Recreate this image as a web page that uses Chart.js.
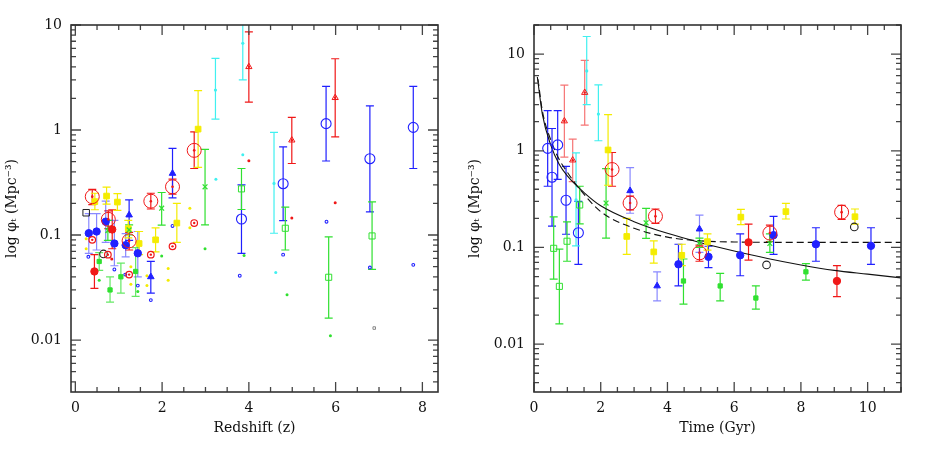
<!DOCTYPE html>
<html><head><meta charset="utf-8">
<script src="https://cdn.jsdelivr.net/npm/chart.js@4.4.1/dist/chart.umd.min.js"></script>
<style>
html,body{margin:0;padding:0;background:#fff;}
#wrap{position:relative;width:926px;height:463px;}
.pane{position:absolute;top:0;width:463px;height:463px;}
</style></head><body>
<div id="wrap">
<div class="pane" style="left:0"><canvas id="c1" width="463" height="463"></canvas></div>
<div class="pane" style="left:463px"><canvas id="c2" width="463" height="463"></canvas></div>
</div>
<script>
// ---------- tick labels ----------
const yMajorVals = [0.01, 0.1, 1, 10];
const yMajorLabels = ['0.01', '0.1', '1', '10'];
const xMajorLeft = [0, 2, 4, 6, 8];
const xMajorRight = [0, 2, 4, 6, 8, 10];
const xTitleLeft = 'Redshift (z)';
const xTitleRight = 'Time (Gyr)';
const yTitle = 'log \u03C6\u209C (Mpc\u207B\u00B3)';

// ---------- data (z = redshift, t = time in Gyr, phi in Mpc^-3) ----------
const redRingZ   = [0.39, 0.76, 1.24, 1.74, 2.24, 2.74];
const redRingT   = [9.22, 7.07, 4.96, 3.64, 2.88, 2.34];
const redRingPhi = [0.232, 0.141, 0.088, 0.21, 0.288, 0.64];
const redRingLo  = [0.195, 0.115, 0.072, 0.177, 0.245, 0.43];
const redRingHi  = [0.272, 0.17, 0.106, 0.25, 0.34, 0.96];

const redSmallRingZ   = [0.39, 0.75, 1.24, 1.74, 2.24, 2.74];
const redSmallRingPhi = [0.09, 0.065, 0.042, 0.065, 0.078, 0.13];

const yelSqZ   = [0.45, 0.72, 0.97, 1.22, 1.47, 1.85, 2.34, 2.83];
const yelSqT   = [9.62, 7.55, 6.2, 5.2, 4.43, 3.59, 2.78, 2.22];
const yelSqPhi = [0.208, 0.235, 0.206, 0.115, 0.083, 0.09, 0.13, 1.02];
const yelSqLo  = [0.174, 0.197, 0.172, 0.094, 0.065, 0.069, 0.085, 0.44];
const yelSqHi  = [0.25, 0.286, 0.248, 0.138, 0.108, 0.117, 0.2, 2.37];

const yelDotZ   = [0.25, 0.25, 1.28, 1.28, 1.65, 1.65, 2.14, 2.14, 2.64, 2.64];
const yelDotPhi = [0.092, 0.074, 0.05, 0.034, 0.041, 0.033, 0.048, 0.037, 0.18, 0.117];

const bluFillZ   = [0.31, 0.49, 0.70, 0.90, 1.16, 1.44];
const bluFillT   = [10.1, 8.45, 7.18, 6.18, 5.23, 4.33];
const bluFillPhi = [0.104, 0.108, 0.134, 0.083, 0.08, 0.067];
const bluFillLo  = [0.067, 0.072, 0.085, 0.051, 0.062, 0.04];
const bluFillHi  = [0.16, 0.16, 0.21, 0.138, 0.103, 0.108];

const bluTriZ   = [1.24, 1.74, 2.24];
const bluTriT   = [4.96, 3.69, 2.88];
const bluTriPhi = [0.155, 0.04, 0.386];
const bluTriLo  = [0.089, 0.028, 0.226];
const bluTriHi  = [0.216, 0.056, 0.67];

const bluOpenZ   = [3.83, 4.79, 5.78, 6.79, 7.79];
const bluOpenT   = [1.33, 0.96, 0.71, 0.54, 0.41];
const bluOpenPhi = [0.142, 0.308, 1.15, 0.533, 1.06];
const bluOpenLo  = [0.067, 0.137, 0.507, 0.166, 0.43];
const bluOpenHi  = [0.30, 0.69, 2.6, 1.7, 2.6];

const bluDotZ   = [0.30, 0.90, 1.15, 1.44, 1.74, 2.24, 3.79, 4.79, 5.79, 6.79, 7.79];
const bluDotPhi = [0.062, 0.047, 0.042, 0.033, 0.024, 0.122, 0.041, 0.065, 0.134, 0.049, 0.052];

const grnFillZ   = [0.55, 0.80, 1.05, 1.39];
const grnFillT   = [8.15, 6.65, 5.58, 4.48];
const grnFillPhi = [0.056, 0.030, 0.040, 0.045];
const grnFillLo  = [0.046, 0.023, 0.028, 0.026];
const grnFillHi  = [0.068, 0.040, 0.054, 0.076];

const grnXZ   = [0.75, 1.24, 1.99, 2.99];
const grnXT   = [7.07, 4.96, 3.36, 2.16];
const grnXPhi = [0.11, 0.112, 0.18, 0.288];
const grnXLo  = [0.089, 0.1, 0.124, 0.125];
const grnXHi  = [0.138, 0.125, 0.254, 0.655];

const grnOpenZ   = [3.83, 4.84, 5.84, 6.84];
const grnOpenT   = [1.37, 0.99, 0.76, 0.59];
const grnOpenPhi = [0.275, 0.116, 0.0396, 0.098];
const grnOpenLo  = [0.175, 0.072, 0.0162, 0.047];
const grnOpenHi  = [0.43, 0.184, 0.096, 0.207];

const grnDotZ   = [0.55, 1.44, 1.99, 2.99, 3.89, 4.88, 5.88];
const grnDotPhi = [0.037, 0.029, 0.063, 0.074, 0.064, 0.027, 0.011];

const grayDotZ   = [6.89];
const grayDotPhi = [0.013];

const cyanZ   = [3.23, 3.86, 4.58];
const cyanT   = [1.93, 1.58, 1.26];
const cyanPhi = [2.4, 6.7, 0.31];
const cyanLo  = [1.27, 3.0, 0.104];
const cyanHi  = [4.8, 15.2, 0.95];

const cyanDotZ   = [3.24, 3.86, 4.62];
const cyanDotPhi = [0.34, 0.58, 0.044];

const redTriZ   = [4.0, 4.99, 5.99];
const redTriT   = [1.52, 1.16, 0.91];
const redTriPhi = [4.0, 0.80, 2.03];
const redTriLo  = [1.84, 0.48, 0.86];
const redTriHi  = [8.6, 1.32, 4.77];

const redDotZ   = [0.84, 4.0, 4.99, 5.99];
const redDotPhi = [0.059, 0.51, 0.145, 0.203];

const redFillZ   = [0.44, 0.85];
const redFillT   = [9.08, 6.43];
const redFillPhi = [0.045, 0.113];
const redFillLo  = [0.031, 0.074];
const redFillHi  = [0.065, 0.174];

const blkSqZ = [0.25], blkSqT = [9.6], blkSqPhi = [0.163];
const blkCircZ = [0.65], blkCircT = [6.97], blkCircPhi = [0.066];

// model curves (right panel)
const solidT   = [0.1, 0.25, 0.5, 0.75, 1, 1.5, 2, 3, 4, 5, 6, 7, 8, 9, 10, 11];
const solidPhi = [5.8, 2.4, 1.15, 0.73, 0.55, 0.37, 0.27, 0.185, 0.14, 0.112, 0.092, 0.077, 0.066, 0.058, 0.053, 0.0485];
const dashT    = [0.12, 0.25, 0.5, 0.75, 1, 1.3, 2, 3, 4, 5, 6, 7, 8, 9, 10, 11];
const dashPhi  = [5.5, 2.6, 1.3, 0.82, 0.6, 0.43, 0.235, 0.158, 0.128, 0.117, 0.114, 0.113, 0.113, 0.113, 0.113, 0.113];

// ---------- styling ----------
const FONT = '"DejaVu Serif", "Liberation Serif", serif';
const RED = '#f01818', YEL = '#f4ec00', BLU = '#2020ff', GRN = '#30e030', CYA = '#40f0f0', BLK = '#222';
const T = 'rgba(0,0,0,0)';

function pts(xs, ys) { return xs.map((v, i) => ({x: v, y: ys[i]})); }
function mk(xs, ys, st, lo, hi, errColor) {
  const d = Object.assign({data: pts(xs, ys), showLine: false, pointHoverRadius: 0}, st);
  if (lo) { d.errLo = lo; d.errHi = hi; d.errColor = errColor; }
  return d;
}
const S = {
  ring:  c => ({pointStyle:'circle', pointRadius:7, pointBorderColor:c, pointBackgroundColor:T, pointBorderWidth:1, borderColor:c, backgroundColor:T}),
  sring: c => ({pointStyle:'circle', pointRadius:3.3, pointBorderColor:c, pointBackgroundColor:T, pointBorderWidth:1.2, borderColor:c, backgroundColor:T}),
  dot:   (c, r) => ({pointStyle:'circle', pointRadius:r || 1.4, pointBorderWidth:0, pointBackgroundColor:c, borderColor:c, backgroundColor:c}),
  fcirc: c => ({pointStyle:'circle', pointRadius:3.7, pointBorderWidth:1, pointBorderColor:c, pointBackgroundColor:c, borderColor:c, backgroundColor:c}),
  fsq:   (c, r) => ({pointStyle:'rect', pointRadius:r, pointBorderWidth:1, pointBorderColor:c, pointBackgroundColor:c, borderColor:c, backgroundColor:c}),
  osq:   (c, r) => ({pointStyle:'rect', pointRadius:r, pointBorderWidth:1, pointBorderColor:c, pointBackgroundColor:T, borderColor:c, backgroundColor:T}),
  ftri:  c => ({pointStyle:'triangle', pointRadius:3.8, pointBorderWidth:1, pointBorderColor:c, pointBackgroundColor:c, borderColor:c, backgroundColor:c}),
  otri:  c => ({pointStyle:'triangle', pointRadius:3.6, pointBorderWidth:1, pointBorderColor:c, pointBackgroundColor:T, borderColor:c, backgroundColor:T}),
  ocirc: (c, r) => ({pointStyle:'circle', pointRadius:r, pointBorderWidth:1.1, pointBorderColor:c, pointBackgroundColor:T, borderColor:c, backgroundColor:T}),
  xx:    c => ({pointStyle:'crossRot', pointRadius:3.4, pointBorderWidth:1.3, pointBorderColor:c, borderColor:c, backgroundColor:c})
};
const paleBlue = 'rgba(40,40,255,0.55)', paleGreen = 'rgba(48,224,48,0.75)', paleRed = 'rgba(240,24,24,0.6)';

// ---------- plugins ----------
const errorBars = {
  id: 'errorBars',
  beforeDatasetsDraw(chart) {
    const {ctx, chartArea: a, scales: {x, y}} = chart;
    ctx.save();
    ctx.beginPath(); ctx.rect(a.left, a.top, a.right - a.left, a.bottom - a.top); ctx.clip();
    chart.data.datasets.forEach(ds => {
      if (!ds.errLo) return;
      ctx.strokeStyle = ds.errColor; ctx.lineWidth = 1.2;
      ds.data.forEach((p, i) => {
        const px = x.getPixelForValue(p.x);
        const y1 = y.getPixelForValue(ds.errLo[i]);
        const y2 = y.getPixelForValue(ds.errHi[i]);
        ctx.beginPath();
        ctx.moveTo(px, y1); ctx.lineTo(px, y2);
        ctx.moveTo(px - 4, y1); ctx.lineTo(px + 4, y1);
        ctx.moveTo(px - 4, y2); ctx.lineTo(px + 4, y2);
        ctx.stroke();
      });
    });
    ctx.restore();
  }
};
const frameTicks = {
  id: 'frameTicks',
  afterDraw(chart) {
    const {ctx, chartArea: a, scales: {x, y}} = chart;
    ctx.save();
    ctx.strokeStyle = '#444'; ctx.lineWidth = 1.3;
    ctx.beginPath();
    y.ticks.forEach(t => {
      const p = y.getPixelForValue(t.value); const L = t.big ? 10 : 5;
      ctx.moveTo(a.left, p); ctx.lineTo(a.left + L, p);
      ctx.moveTo(a.right, p); ctx.lineTo(a.right - L, p);
    });
    x.ticks.forEach(t => {
      const p = x.getPixelForValue(t.value); const L = t.big ? 10 : 5;
      ctx.moveTo(p, a.bottom); ctx.lineTo(p, a.bottom - L);
      ctx.moveTo(p, a.top); ctx.lineTo(p, a.top + L);
    });
    ctx.stroke();
    ctx.strokeStyle = '#333'; ctx.lineWidth = 1.6;
    ctx.strokeRect(a.left, a.top, a.right - a.left, a.bottom - a.top);
    ctx.restore();
  }
};

function yScale(min, max) {
  return {
    type: 'logarithmic', min, max, position: 'left',
    afterBuildTicks(s) {
      const t = [];
      for (let e = -4; e <= 2; e++) for (let m = 1; m <= 9; m++) {
        const v = +(m * Math.pow(10, e)).toPrecision(6);
        if (v >= min && v <= max) t.push({value: v, big: m === 1});
      }
      s.ticks = t;
    },
    afterFit(s) { s.width = 71; },
    grid: {display: false, drawTicks: false}, border: {display: false},
    ticks: {autoSkip: false, padding: 9, color: '#111', font: {family: FONT, size: 14},
      callback: v => { const k = yMajorVals.indexOf(v); return k >= 0 ? yMajorLabels[k] : ''; }},
    title: {display: true, text: yTitle, color: '#111', font: {family: FONT, size: 14}, padding: {top: 4, bottom: 0}}
  };
}
function xScale(min, max, majors, title) {
  return {
    type: 'linear', min, max, position: 'bottom',
    afterBuildTicks(s) {
      const t = [];
      for (let k = 0; k * 0.5 <= max + 1e-9; k++) { const v = k * 0.5; if (v >= min) t.push({value: v, big: k % 4 === 0}); }
      s.ticks = t;
    },
    afterFit(s) { s.height = 71; },
    grid: {display: false, drawTicks: false}, border: {display: false},
    ticks: {autoSkip: false, maxRotation: 0, padding: 8, color: '#111', font: {family: FONT, size: 14},
      callback: v => majors.includes(v) ? String(v) : ''},
    title: {display: true, text: title, color: '#111', font: {family: FONT, size: 14}, padding: {top: 0, bottom: 26}}
  };
}
function opts(xs, ys) {
  return {
    responsive: false, animation: false, events: [],
    layout: {padding: {left: 0, right: 25, top: 25, bottom: 0}},
    plugins: {legend: {display: false}, tooltip: {enabled: false}},
    scales: {x: xs, y: ys}
  };
}

// ---------- left: redshift ----------
const leftSets = [
  mk(redRingZ, redRingPhi, S.dot(RED, 1.3)),
  mk(redRingZ, redRingPhi, S.ring(RED), redRingLo, redRingHi, RED),
  mk(redSmallRingZ, redSmallRingPhi, S.dot(RED, 1.2)),
  mk(redSmallRingZ, redSmallRingPhi, S.sring(RED)),
  mk(blkSqZ, blkSqPhi, S.osq(BLK, 4.6)),
  mk(blkCircZ, blkCircPhi, S.ocirc(BLK, 3.8)),
  mk(redTriZ, redTriPhi, S.dot(RED, 1.2)),
  mk(redTriZ, redTriPhi, S.otri(RED), redTriLo, redTriHi, RED),
  mk(redFillZ, redFillPhi, S.fcirc(RED), redFillLo, redFillHi, RED),
  mk(bluTriZ, bluTriPhi, S.ftri(BLU), bluTriLo, bluTriHi, BLU),
  mk(bluFillZ, bluFillPhi, S.fcirc(BLU), bluFillLo, bluFillHi, paleBlue),
  mk(bluOpenZ, bluOpenPhi, S.ocirc(BLU, 5), bluOpenLo, bluOpenHi, BLU),
  mk(grnXZ, grnXPhi, S.xx(GRN), grnXLo, grnXHi, GRN),
  mk(grnFillZ, grnFillPhi, S.fsq(GRN, 3), grnFillLo, grnFillHi, paleGreen),
  mk(grnOpenZ, grnOpenPhi, S.osq(GRN, 4.3), grnOpenLo, grnOpenHi, GRN),
  mk(yelSqZ, yelSqPhi, S.fsq(YEL, 4), yelSqLo, yelSqHi, YEL),
  mk(cyanZ, cyanPhi, S.dot(CYA, 1.6), cyanLo, cyanHi, CYA),
  mk(bluDotZ, bluDotPhi, S.ocirc(BLU, 1.4)),
  mk(grnDotZ, grnDotPhi, S.dot(GRN, 1.5)),
  mk(yelDotZ, yelDotPhi, S.dot(YEL, 1.5)),
  mk(redDotZ, redDotPhi, S.dot(RED, 1.5)),
  mk(cyanDotZ, cyanDotPhi, S.dot(CYA, 1.5)),
  mk(grayDotZ, grayDotPhi, S.osq('#888', 1.8))
];
new Chart(document.getElementById('c1'), {
  type: 'scatter', data: {datasets: leftSets},
  options: opts(xScale(-0.1, 8.36, xMajorLeft, xTitleLeft), yScale(0.0032, 10)),
  plugins: [errorBars, frameTicks]
});

// ---------- right: time ----------
const rightSets = [
  mk(redRingT, redRingPhi, S.dot(RED, 1.3)),
  mk(redRingT, redRingPhi, S.ring(RED), redRingLo, redRingHi, RED),
  mk(blkSqT, blkSqPhi, S.ocirc(BLK, 3.8)),
  mk(blkCircT, blkCircPhi, S.ocirc(BLK, 3.8)),
  mk(redTriT, redTriPhi, S.dot(RED, 1.2)),
  mk(redTriT, redTriPhi, S.otri(RED), redTriLo, redTriHi, paleRed),
  mk(redFillT, redFillPhi, S.fcirc(RED), redFillLo, redFillHi, RED),
  mk(bluTriT, bluTriPhi, S.ftri(BLU), bluTriLo, bluTriHi, paleBlue),
  mk(bluFillT, bluFillPhi, S.fcirc(BLU), bluFillLo, bluFillHi, BLU),
  mk(bluOpenT, bluOpenPhi, S.ocirc(BLU, 5), bluOpenLo, bluOpenHi, BLU),
  mk(grnXT, grnXPhi, S.xx(GRN), grnXLo, grnXHi, GRN),
  mk(grnFillT, grnFillPhi, S.fsq(GRN, 3), grnFillLo, grnFillHi, GRN),
  mk(grnOpenT, grnOpenPhi, S.osq(GRN, 4.3), grnOpenLo, grnOpenHi, GRN),
  mk(yelSqT, yelSqPhi, S.fsq(YEL, 4), yelSqLo, yelSqHi, YEL),
  mk(cyanT, cyanPhi, S.dot(CYA, 1.6), cyanLo, cyanHi, CYA),
  Object.assign(mk(solidT, solidPhi, {pointRadius: 0}), {showLine: true, borderColor: '#111', borderWidth: 1.1, cubicInterpolationMode: 'monotone', order: 50}),
  Object.assign(mk(dashT, dashPhi, {pointRadius: 0}), {showLine: true, borderColor: '#111', borderWidth: 1.1, borderDash: [7, 4], cubicInterpolationMode: 'monotone', order: 50})
];
new Chart(document.getElementById('c2'), {
  type: 'scatter', data: {datasets: rightSets},
  options: opts(xScale(0, 11, xMajorRight, xTitleRight), yScale(0.0032, 20)),
  plugins: [errorBars, frameTicks]
});
</script>
</body></html>
